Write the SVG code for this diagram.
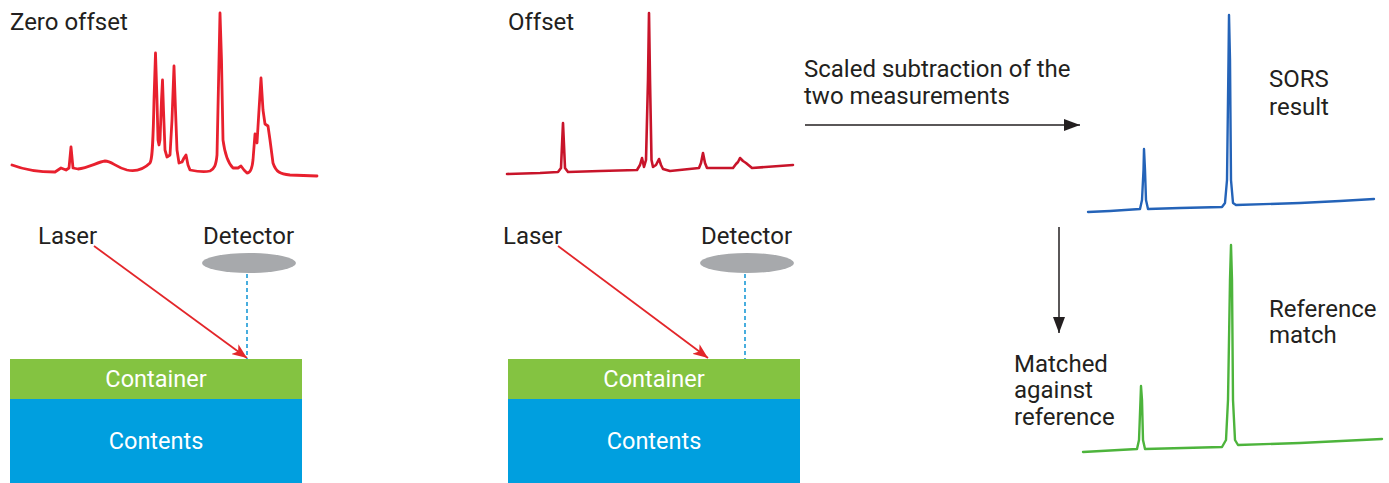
<svg xmlns="http://www.w3.org/2000/svg" width="1389" height="483" viewBox="0 0 1389 483">
  <style>
    .lbl { font-family: Roboto, "Liberation Sans", sans-serif; font-size: 24px; fill: #231f20; }
    .inside { font-family: Roboto, "Liberation Sans", sans-serif; font-size: 23.5px; fill: #ffffff; text-anchor: middle; }
    .spec { fill: none; stroke-linejoin: round; stroke-linecap: round; }
    .laser { stroke: #e3262a; stroke-width: 1.8; fill: none; }
    .beam { stroke: #1b9ad6; stroke-width: 1.6; stroke-dasharray: 4 3; fill: none; }
    .flow { stroke: #231f20; stroke-width: 1.5; fill: none; }
    .detector { fill: #a7a9ac; }
    .container { fill: #84c341; }
    .contents { fill: #009fdf; }
  </style>
  <defs>
    <marker id="redHead" viewBox="0 0 15 12" refX="15" refY="6" markerWidth="15" markerHeight="12" markerUnits="userSpaceOnUse" orient="auto">
      <path d="M0,0 L15,6 L0,12 L4,6 Z" fill="#e3262a"/>
    </marker>
    <marker id="blackHead" viewBox="0 0 16 12" refX="16" refY="6" markerWidth="16" markerHeight="12" markerUnits="userSpaceOnUse" orient="auto">
      <path d="M0,0 L16,6 L0,12 Z" fill="#231f20"/>
    </marker>
  </defs>

  <!-- Zero offset measurement -->
  <g id="zero-offset">
    <text class="lbl" x="10" y="30">Zero offset</text>
    <path class="spec" stroke="#e8202e" stroke-width="2.8" d="M12,165 C25,170 40,172 55,172 L61,168 L66,170 L69,168 L71,147 L73,168 L78,169 C88,168 98,162 105,161 C112,161 115,167 127,170 C137,172 145,168 150,163 C152,160 153,150 154,100 L155.5,53 L157,100 L158,140 L159,145 L160,140 L161.5,100 L162.5,80 L163.5,110 L165,150 L167,157 L170,155 L172,120 L174,66 L175.5,110 L177,150 L179,163 L182,162 L184,158 L186,155 L188,165 L190,170 C200,172 205,172 210,171 C214,169 216,166 217,155 L219,60 L220,13 L221.5,60 L223,140 C225,155 228,163 233,168 L238,168 L241,166 L244,170 L247,173 C250,173 252,170 253,160 L255,134 L257,143 L259,110 L261,78 L263,110 L265,124 L268,126 L270,140 L273,163 C276,172 280,174 290,175 L317,176"/>
    <text class="lbl" x="38" y="244">Laser</text>
    <text class="lbl" x="203" y="244">Detector</text>
    <ellipse class="detector" cx="249" cy="263" rx="47" ry="10"/>
    <rect class="container" x="10" y="359" width="292" height="40"/>
    <rect class="contents" x="10" y="399" width="292" height="84"/>
    <text class="inside" x="156" y="387">Container</text>
    <text class="inside" x="156" y="449">Contents</text>
  </g>

  <!-- Offset measurement -->
  <g id="offset">
    <text class="lbl" x="508" y="30">Offset</text>
    <path class="spec" stroke="#c8142a" stroke-width="2.6" d="M507,174 L540,173 L558,172 L561,168 L563,123 L565,168 L568,172 L600,171 L637,170 L640,165 L642,158 L644,167 L646,160 L648,80 L649,13 L650,80 L651.5,160 L653,167 L656,165 L659,159 L661,165 L663,169 L670,171 L699,168 L701,163 L703,153 L705,163 L707,168 L733,168 L736,164 L738,162 L740,158 L743,161 L746,163 L752,168 L793,165"/>
    <text class="lbl" x="503" y="244">Laser</text>
    <text class="lbl" x="701" y="244">Detector</text>
    <ellipse class="detector" cx="747" cy="263" rx="47" ry="10"/>
    <rect class="container" x="508" y="359" width="292" height="40"/>
    <rect class="contents" x="508" y="399" width="292" height="84"/>
    <text class="inside" x="654" y="387">Container</text>
    <text class="inside" x="654" y="449">Contents</text>
  </g>

  <!-- Subtraction result -->
  <g id="sors-result">
    <path class="spec" stroke="#2463b8" stroke-width="2.4" d="M1088,212 L1110,211 L1140,209 L1142,200 L1143.5,170 L1144,149 L1145,170 L1146,200 L1148,209 L1180,208 L1222,207 L1225,203 L1227,180 L1228.5,60 L1229,15 L1230,60 L1231,180 L1233,203 L1236,205 L1300,203 L1340,201 L1374,199"/>
    <text class="lbl" x="1269" y="87">SORS</text>
    <text class="lbl" x="1269" y="115">result</text>
  </g>

  <!-- Library reference -->
  <g id="reference-match">
    <path class="spec" stroke="#4db43c" stroke-width="2.4" d="M1083,452 L1137,449 L1139,440 L1140.5,400 L1141,386 L1142,400 L1143,440 L1145,449 L1222,447 L1226,440 L1228,400 L1230,280 L1231,245 L1232,280 L1233,400 L1235,440 L1238,445 L1300,443 L1382,439"/>
    <text class="lbl" x="1269" y="317">Reference</text>
    <text class="lbl" x="1269" y="343">match</text>
  </g>

  <g id="subtraction-label">
    <text class="lbl" x="804" y="77">Scaled subtraction of the</text>
    <text class="lbl" x="804" y="104">two measurements</text>
  </g>

  <g id="matched-label">
    <text class="lbl" x="1014" y="372">Matched</text>
    <text class="lbl" x="1014" y="398">against</text>
    <text class="lbl" x="1014" y="425">reference</text>
  </g>

  <!-- Connectors -->
  <g id="connectors">
    <line class="laser" x1="94" y1="246" x2="247" y2="358" marker-end="url(#redHead)"/>
    <line class="beam" x1="247" y1="274" x2="247" y2="359"/>
    <line class="laser" x1="558" y1="246" x2="708" y2="358" marker-end="url(#redHead)"/>
    <line class="beam" x1="745" y1="274" x2="745" y2="359"/>
    <line class="flow" x1="805" y1="125" x2="1080" y2="125" marker-end="url(#blackHead)"/>
    <line class="flow" x1="1059" y1="227" x2="1059" y2="333" marker-end="url(#blackHead)"/>
  </g>
</svg>
